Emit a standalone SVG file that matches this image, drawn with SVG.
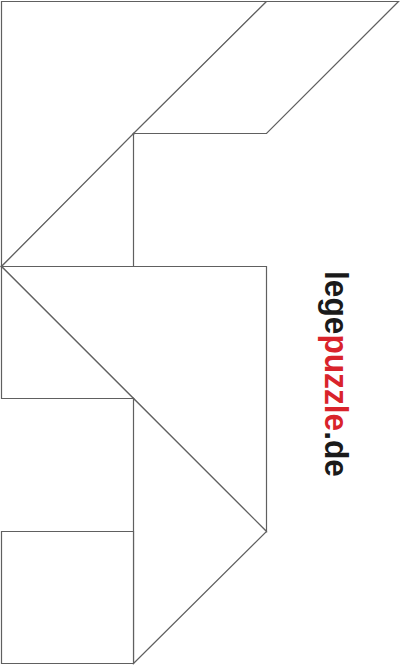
<svg xmlns="http://www.w3.org/2000/svg" width="400" height="665" viewBox="0 0 400 665">
<style>
.p{fill:#fff;stroke:#606060;stroke-width:1.2;stroke-linejoin:miter}
.t{font-family:"Liberation Sans",Arial,sans-serif;font-weight:bold;font-size:33px}
</style>
<rect width="400" height="665" fill="#fff"/>
<g id="big-triangle-top"><polygon class="p" points="1.5,1.5 266.5,1.5 1.5,266.5"/></g>
<g id="parallelogram"><polygon class="p" points="266.5,1.5 398.5,1.5 266.5,133.5 133.5,133.5"/></g>
<g id="small-triangle-top"><polygon class="p" points="133.5,133.5 133.5,266.5 1.5,266.5"/></g>
<g id="big-triangle-middle"><polygon class="p" points="1.5,266.5 266.5,266.5 266.5,531.5"/></g>
<g id="small-triangle-left"><polygon class="p" points="1.5,266.5 133.5,398.5 1.5,398.5"/></g>
<g id="medium-triangle"><polygon class="p" points="133.5,398.5 266.5,531.5 133.5,663.5"/></g>
<g id="square"><polygon class="p" points="1.5,531.5 133.5,531.5 133.5,663.5 1.5,663.5"/></g>
<g id="logo">
<text class="t" transform="translate(325,271) rotate(90)" textLength="206" lengthAdjust="spacingAndGlyphs"><tspan fill="#1a1a1a">lege</tspan><tspan fill="#d9232b">puzzle</tspan><tspan fill="#1a1a1a">.de</tspan></text>
</g>
</svg>
